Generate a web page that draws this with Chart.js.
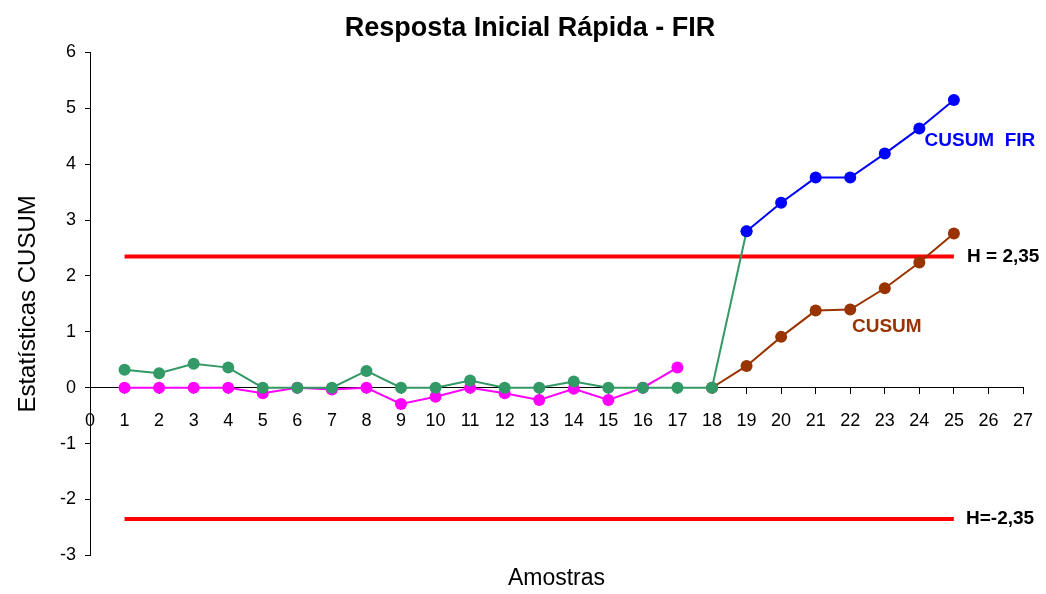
<!DOCTYPE html>
<html>
<head>
<meta charset="UTF-8" />
<script src="https://cdn.jsdelivr.net/npm/chart.js"></script>
<style>
  body {
    margin: 0;
    padding: 0;
    background: #fff;
  }
  .chart-container {
    position: relative;
    width: 1046px;
    height: 594px;
  }
</style>
</head>
<body>
<div class="chart-container">
  <canvas id="cusumChart"></canvas>
</div>
<script>
  // Amostras 1..19 (verde), 1..17 (magenta), 19..25 (FIR), 18..25 (CUSUM)
  const greenSamples = [1, 2, 3, 4, 5, 6, 7, 8, 9, 10, 11, 12, 13, 14, 15, 16, 17, 18, 19];
  const greenValues = [0.32, 0.26, 0.43, 0.36, 0, 0, 0, 0.3, 0, 0, 0.13, 0, 0, 0.11, 0, 0, 0, 0, 2.8];
  const magentaSamples = [1, 2, 3, 4, 5, 6, 7, 8, 9, 10, 11, 12, 13, 14, 15, 16, 17];
  const magentaValues = [0, 0, 0, 0, -0.1, 0, -0.03, 0, -0.29, -0.16, 0, -0.1, -0.22, -0.02, -0.22, 0, 0.36];
  const firSamples = [19, 20, 21, 22, 23, 24, 25];
  const firValues = [2.8, 3.31, 3.76, 3.76, 4.19, 4.64, 5.15];
  const cusumSamples = [18, 19, 20, 21, 22, 23, 24, 25];
  const cusumValues = [0, 0.39, 0.91, 1.38, 1.4, 1.78, 2.24, 2.76];
  const limitSamples = [1, 25];
  const hUpper = 2.35;
  const hLower = -2.35;

  const toPoints = (xs, ys) => xs.map((x, i) => ({ x: x, y: ys[i] }));

  // textos dentro do gráfico
  const chartLabels = [
    { text: 'CUSUM  FIR', x: 24.15, y: 4.42, color: '#0000FF' },
    { text: 'CUSUM', x: 22.05, y: 1.09, color: '#993300' },
    { text: 'H = 2,35', x: 25.38, y: hUpper, color: '#000000' },
    { text: 'H=-2,35', x: 25.35, y: hLower, color: '#000000' },
  ];

  const labelPlugin = {
    id: 'chartLabels',
    afterDatasetsDraw(chart) {
      const { ctx, scales } = chart;
      ctx.save();
      ctx.font = 'bold 19px "Liberation Sans", Arial, sans-serif';
      ctx.textBaseline = 'middle';
      ctx.textAlign = 'left';
      chartLabels.forEach(l => {
        ctx.fillStyle = l.color;
        ctx.fillText(l.text, scales.x.getPixelForValue(l.x), scales.y.getPixelForValue(l.y));
      });
      ctx.restore();
    }
  };

  const lineSeries = (data, color) => ({
    data: data,
    borderColor: color,
    backgroundColor: color,
    borderWidth: 2,
    pointRadius: 6,
    pointBorderWidth: 0,
    pointBackgroundColor: color,
    tension: 0,
  });

  const limitSeries = (value) => ({
    data: toPoints(limitSamples, [value, value]),
    borderColor: '#FF0000',
    borderWidth: 4,
    pointRadius: 0,
    tension: 0,
  });

  Chart.defaults.font.family = '"Liberation Sans", Arial, sans-serif';
  Chart.defaults.color = '#000';

  const ctx = document.getElementById('cusumChart').getContext('2d');
  new Chart(ctx, {
    type: 'line',
    data: {
      datasets: [
        lineSeries(toPoints(firSamples, firValues), '#0000FF'),
        lineSeries(toPoints(greenSamples, greenValues), '#339966'),
        lineSeries(toPoints(magentaSamples, magentaValues), '#FF00FF'),
        lineSeries(toPoints(cusumSamples, cusumValues), '#993300'),
        limitSeries(hUpper),
        limitSeries(hLower),
      ],
    },
    options: {
      responsive: true,
      maintainAspectRatio: false,
      animation: false,
      layout: { padding: { left: 37, right: 23, top: 0, bottom: 0 } },
      plugins: {
        legend: { display: false },
        tooltip: { enabled: false },
        title: {
          display: true,
          text: 'Resposta Inicial Rápida - FIR',
          color: '#000',
          font: { size: 27, weight: 'bold' },
          padding: { top: 12, bottom: 8 },
        },
      },
      scales: {
        x: {
          type: 'linear',
          position: { y: 0 },
          min: 0,
          max: 27,
          ticks: { stepSize: 1, autoSkip: false, maxRotation: 0, color: '#000', font: { size: 18 }, padding: 16 },
          grid: { drawOnChartArea: false, tickLength: 6, color: '#000' },
          border: { color: '#000' },
          afterFit(scale) {
            scale.paddingLeft = 0;
            scale.paddingRight = 0;
          },
        },
        xTitle: {
          type: 'linear',
          axis: 'x',
          position: 'bottom',
          min: 0,
          max: 27,
          ticks: { display: false },
          grid: { display: false },
          border: { display: false },
          title: {
            display: true,
            text: 'Amostras',
            color: '#000',
            font: { size: 23 },
            padding: { top: 1, bottom: 2 },
          },
        },
        y: {
          type: 'linear',
          position: 'left',
          min: -3,
          max: 6,
          ticks: { stepSize: 1, color: '#000', font: { size: 18 }, padding: 9 },
          grid: { drawOnChartArea: false, tickLength: 5, color: '#000' },
          border: { color: '#000' },
          title: {
            display: true,
            text: 'Estatísticas CUSUM',
            color: '#000',
            font: { size: 24 },
            padding: { top: -23.4, bottom: 0 },
          },
          afterFit(scale) {
            scale.width = 53;
          },
        },
      },
    },
    plugins: [labelPlugin],
  });
</script>
</body>
</html>
